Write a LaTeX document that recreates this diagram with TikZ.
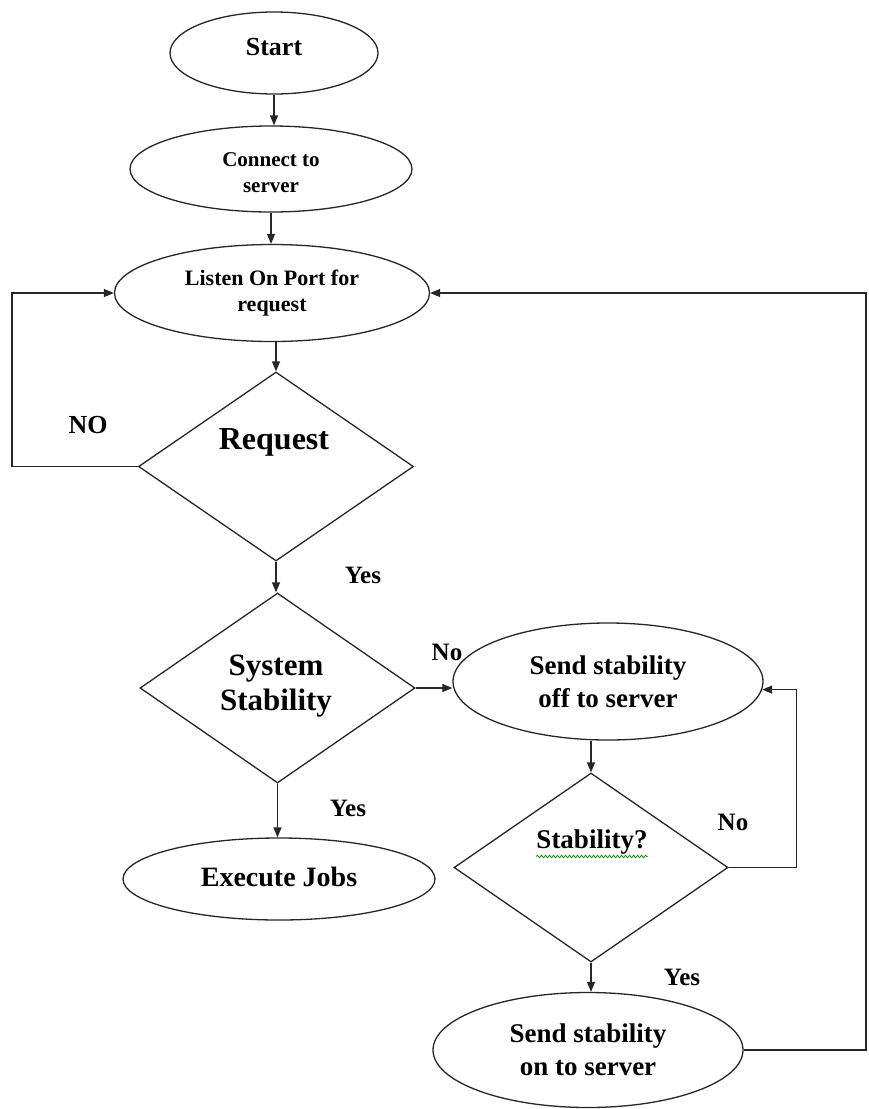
\documentclass[tikz,border=0pt]{standalone}
\usepackage{fontspec}
\setmainfont{Liberation Serif}
\usetikzlibrary{shapes.geometric,arrows.meta,decorations.pathmorphing}
\tikzset{
  term/.style={draw=black!85, line width=1.3pt, ellipse, inner sep=0pt, align=center, font=\bfseries},
  decide/.style={draw=black!85, line width=1.3pt, diamond, inner sep=0pt, align=center, font=\bfseries},
  txt/.style={inner sep=0pt, align=center, font=\bfseries},
  arr/.style={draw=black!85, line width=1.3pt, -{Triangle[length=10pt,width=8pt]}},
}
\begin{document}
\begin{tikzpicture}[x=1pt,y=-1pt]
\useasboundingbox (0,0) rectangle (869,1109);
% nodes
\node[term, minimum width=208pt, minimum height=82pt] (start) at (274,53) {};
\node[txt, font=\bfseries\fontsize{26}{30}\selectfont] (startt) at (274,47.5) {Start};
\node[term, minimum width=282pt, minimum height=86pt] (connect) at (271,169) {};
\node[txt, font=\bfseries\fontsize{21}{26}\selectfont] (connectt) at (271,173) {Connect to\\server};
\node[term, minimum width=315pt, minimum height=97pt, font=\bfseries\fontsize{22}{26}\selectfont] (listen) at (272,293) {Listen On Port for\\request};
\node[decide, minimum width=275pt, minimum height=189pt] (request) at (276,466.5) {};
\node[txt, font=\bfseries\fontsize{32}{36}\selectfont] (requestt) at (274,442) {Request};
\node[decide, minimum width=275pt, minimum height=190pt] (system) at (277.5,688) {};
\node[txt, font=\bfseries\fontsize{31}{35}\selectfont] (systemt) at (276,686) {System\\Stability};
\node[term, minimum width=310pt, minimum height=117pt, font=\bfseries\fontsize{27}{33}\selectfont] (sendoff) at (608,681.5) {Send stability\\off to server};
\node[decide, minimum width=274pt, minimum height=189pt] (stab) at (591,867.5) {};
\node[txt, font=\bfseries\fontsize{27}{30}\selectfont] (stabt) at (592,842) {Stability?};
\node[term, minimum width=310pt, minimum height=115pt, font=\bfseries\fontsize{27}{33}\selectfont] (sendon) at (588,1050) {Send stability\\on to server};
\node[term, minimum width=312pt, minimum height=82pt] (execute) at (279,879) {};
\node[txt, font=\bfseries\fontsize{28}{32}\selectfont] (executet) at (279,877) {Execute Jobs};
% labels
\node[txt, font=\bfseries\fontsize{26}{30}\selectfont] (lno1) at (88,425) {NO};
\node[txt, font=\bfseries\fontsize{25}{30}\selectfont] (lyes1) at (363,575) {Yes};
\node[txt, font=\bfseries\fontsize{25}{30}\selectfont] (lno2) at (447,652) {No};
\node[txt, font=\bfseries\fontsize{25}{30}\selectfont] (lyes2) at (348,808) {Yes};
\node[txt, font=\bfseries\fontsize{25}{30}\selectfont] (lno3) at (733,822) {No};
\node[txt, font=\bfseries\fontsize{25}{30}\selectfont] (lyes3) at (682,977) {Yes};
% spell-check underline
\draw[green!60!black, line width=0.8pt, decorate, decoration={snake, amplitude=1.3pt, segment length=4pt}] (stabt.south west) ++(0,2) coordinate (w1) -- (w1 -| stabt.south east);
% connectors
\draw[arr] (start.south) -- (start.south |- connect.north);
\draw[arr] (connect.south) -- (connect.south |- listen.north);
\draw[arr] (listen.south -| request.north) -- (request.north);
\draw[arr] (request.south) -- (request.south |- system.north);
\draw[arr] (request.west) -- ++(-126,0) coordinate (nlc) -- (nlc |- listen.west) -- (listen.west);
\draw[arr] (system.east) -- (system.east -| sendoff.west);
\draw[arr] (system.south) -- (system.south |- execute.north);
\draw[arr] (stab.north |- sendoff.south) -- (stab.north);
\draw[arr] (stab.east) -- ++(68,0) coordinate (nrc) -- (nrc |- sendoff.-3) -- (sendoff.-3);
\draw[arr] (stab.south) -- (stab.south |- sendon.north);
\draw[arr] (sendon.east) -- (866,1050) coordinate (brc) -- (brc |- listen.east) -- (listen.east);
\end{tikzpicture}
\end{document}
